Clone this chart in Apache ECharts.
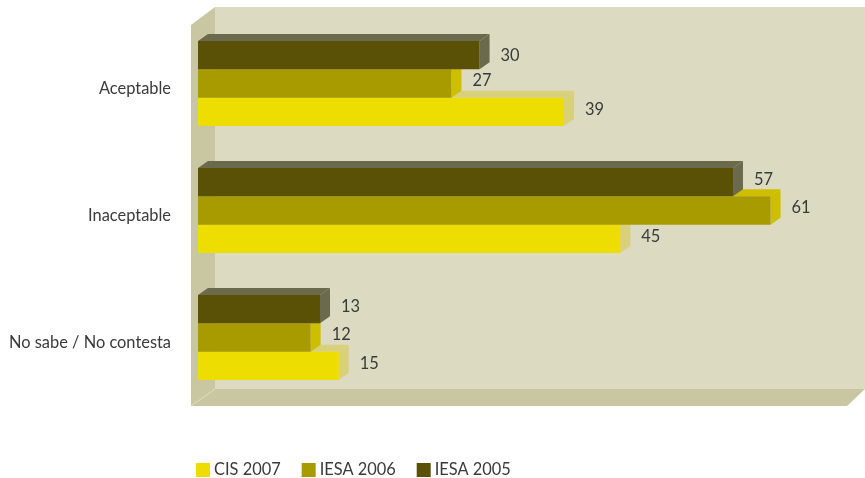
<!DOCTYPE html>
<html>
<head>
<meta charset="utf-8">
<style>html,body{margin:0;padding:0;background:#fff}#c{width:865px;height:478px}</style>
<script src="https://cdn.jsdelivr.net/npm/echarts@6/dist/echarts.min.js"></script>
</head>
<body>
<div id="c"></div>
<script>
const categories = ["Aceptable", "Inaceptable", "No sabe / No contesta"];
const seriesNames = ["CIS 2007", "IESA 2006", "IESA 2005"];
const cis2007 = [39, 45, 15];
const iesa2006 = [27, 61, 12];
const iesa2005 = [30, 57, 13];
const valueMax = 70;

const FONT = 'Lato, sans-serif';
const TEXT = '#3a3a3a';
const FS = 16.4;
const DX = 10, DY = 7;
const faces = [
  {front:'#eedd00', side:'#d9d07c'},
  {front:'#a89b00', side:'#cdbf00'},
  {front:'#5a5106', side:'#6c6a4c'}
];
// vertical position of each series' bar within the band, in bar heights from band centre
const slot = [1, 0, -1];
const chart = echarts.init(document.getElementById('c'), null, {renderer:'canvas'});

function renderer(si){
  return function(params, api){
    const v = api.value(0), c = api.value(1);
    const end = api.coord([v, c]);
    const start = api.coord([0, c]);
    const band = api.size([0, 1])[1];
    const h = band * 0.2235;
    const lift = band * 0.0433;
    const cy = end[1] - lift + slot[si] * h;
    const t = cy - h / 2, b = cy + h / 2, l = start[0], r = end[0];
    const f = faces[si];
    // the first dark bar's label sits a little lower in the reference
    const labelY = cy - 2.6 + (si === 2 && c === 0 ? 3 : 0);
    return {
      type:'group',
      children:[
        {type:'polygon', shape:{points:[[l,t],[l+DX,t-DY],[r+DX,t-DY],[r,t]]}, style:{fill:f.side}},
        {type:'polygon', shape:{points:[[r,t],[r+DX,t-DY],[r+DX,b-DY],[r,b]]}, style:{fill:f.side}},
        {type:'rect', shape:{x:l, y:t, width:r-l, height:b-t}, style:{fill:f.front}},
        {type:'text', x:r+21, y:labelY, z2:50, style:{text:String(v), fill:TEXT, font:FS+'px '+FONT, align:'left', verticalAlign:'middle'}}
      ]
    };
  };
}
const allValues = [cis2007, iesa2006, iesa2005];
const series = allValues.map((vals, si) => ({
  name: seriesNames[si],
  type: 'custom',
  z: 10 + si,
  itemStyle: {color: faces[si].front},
  encode: {x:0, y:1},
  data: vals.map((v,i)=>[v,i]),
  renderItem: renderer(si),
  clip: false
}));

chart.setOption({
  animation:false,
  backgroundColor:'#ffffff',
  textStyle:{fontFamily:FONT},
  grid:{left:198, top:25.5, width:657, height:381, containLabel:false},
  xAxis:{type:'value', min:0, max:valueMax, show:false},
  yAxis:{type:'category', inverse:true, data:categories,
    axisLine:{show:false}, axisTick:{show:false}, splitLine:{show:false},
    axisLabel:{margin:27, color:TEXT, fontSize:FS, fontFamily:FONT, padding:[4,0,0,0]}},
  legend:{left:196, top:462, padding:0, itemWidth:14, itemHeight:14, itemGap:21, icon:'rect',
    data:seriesNames, selectedMode:false,
    textStyle:{color:TEXT, fontSize:FS, fontFamily:FONT, padding:[0,0,0,-1]}},
  graphic:[
    {type:'polygon', z:-5, silent:true, shape:{points:[[215,7],[865,7],[865,389],[215,389]]}, style:{fill:'#dddac2'}},
    {type:'polygon', z:-5, silent:true, shape:{points:[[191,25],[215,7],[215,389],[191,406]]}, style:{fill:'#c9c6a2'}},
    {type:'polygon', z:-5, silent:true, shape:{points:[[191,406],[215,389],[865,389],[847,406]]}, style:{fill:'#c9c6a2'}},
    {type:'line', z:-4, silent:true, shape:{x1:191,y1:406,x2:215,y2:389}, style:{stroke:'#dddac2', lineWidth:1}}
  ],
  series
});
</script>
</body>
</html>
